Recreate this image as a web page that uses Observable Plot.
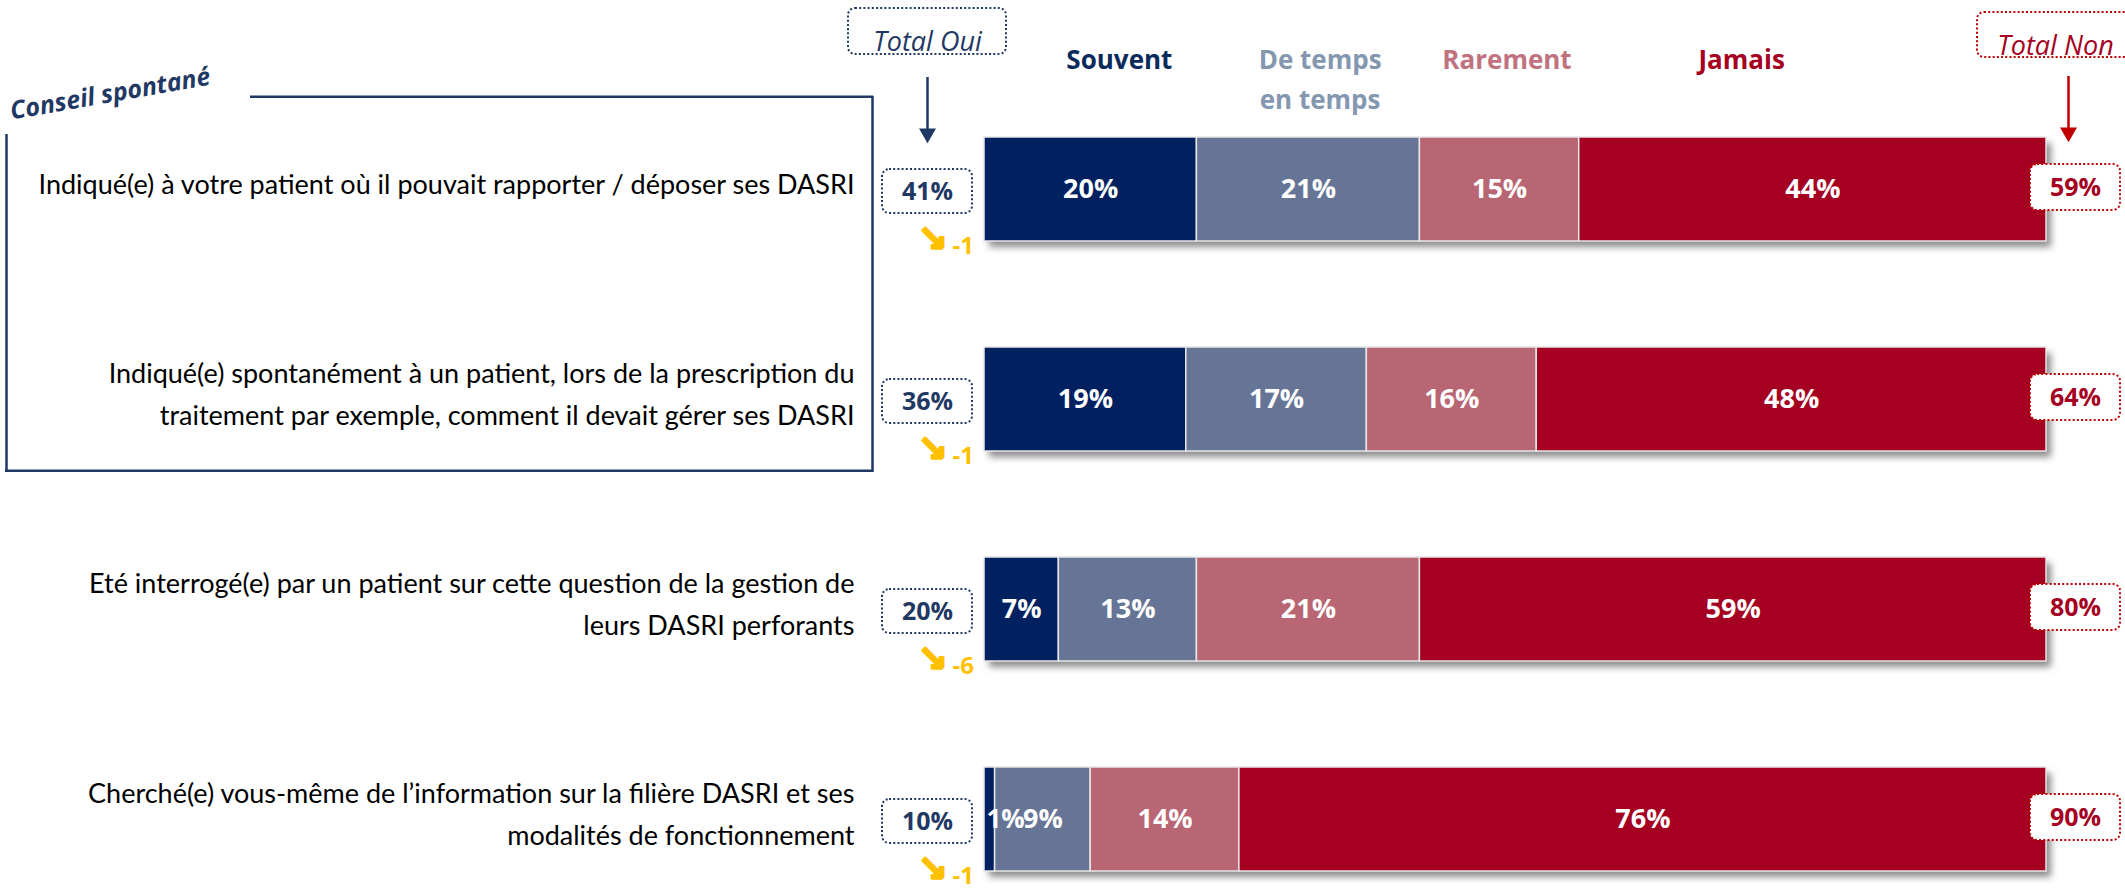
<!DOCTYPE html>
<html><head><meta charset="utf-8">
<script src="https://cdn.jsdelivr.net/npm/d3@7"></script>
<script src="https://cdn.jsdelivr.net/npm/@observablehq/plot@0.6"></script>
<style>html,body{margin:0;padding:0;background:#fff;} #chart svg{display:block;overflow:visible}</style>
</head><body><div id="chart"></div>
<script>
// ---- DATA ----
const questions = [
  "Indiqué(e) à votre patient où il pouvait rapporter / déposer ses DASRI",
  "Indiqué(e) spontanément à un patient, lors de la prescription du\ntraitement par exemple, comment il devait gérer ses DASRI",
  "Eté interrogé(e) par un patient sur cette question de la gestion de\nleurs DASRI perforants",
  "Cherché(e) vous-même de l’information sur la filière DASRI et ses\nmodalités de fonctionnement"
];
const categories = ["Souvent", "De temps en temps", "Rarement", "Jamais"];
const headerLabels = ["Souvent", "De temps\nen temps", "Rarement", "Jamais"];
const souvent  = [20, 19, 7, 1];
const deTemps  = [21, 17, 13, 9];
const rarement = [15, 16, 21, 14];
const jamais   = [44, 48, 59, 76];
const totalOui = [41, 36, 20, 10];
const totalNon = [59, 64, 80, 90];
const evolution = [-1, -1, -6, -1];
const groupLabel = "Conseil spontané";
const totalOuiLabel = "Total Oui";
const totalNonLabel = "Total Non";

// ---- STYLE / LAYOUT ----
const barColors = ["#002060", "#667595", "#b86673", "#a50021"];
const headerColors = ["#0b2a5c", "#8497b0", "#c0737f", "#a50021"];
const headerX = [12.7, 31.6, 49.2, 71.3]; // header positions along the percentage axis
const navy = "#1f3864", crimson = "#a50021", arrowRed = "#c00000", gold = "#ffc000";
const W = 2125, H = 893, mL = 984, mR = 79;
const k = (W - mL - mR) / 100;      // px per percent
const u = px => px / k;             // pixel offset -> percent units
const step = (871.6 - 136) / (4 - 0.505);
const bw = step * 0.495;
const FONT = "'Open Sans', sans-serif";

const valuesByCat = [souvent, deTemps, rarement, jamais];
const segments = [];
questions.forEach((q, i) => {
  let acc = 0;
  categories.forEach((c, j) => {
    const v = valuesByCat[j][i];
    segments.push({q, cat: c, value: v, x1: acc, x2: acc + v});
    acc += v;
  });
});
const rows = questions.map((q, i) => ({q, oui: totalOui[i], non: totalNon[i], evo: evolution[i]}));

const dotted = {strokeDasharray: "2 2.2", strokeWidth: 2, rx: 7, fill: "white"};

const marks = [
  // "Conseil spontané" bracket
  Plot.ruleX([u(6 - mL)], {insetTop: 134, insetBottom: H - 472, stroke: navy, strokeWidth: 2.5}),
  Plot.ruleX([u(872 - mL)], {insetTop: 96, insetBottom: H - 472, stroke: navy, strokeWidth: 2.5}),
  Plot.barX([0], {x1: u(5 - mL), x2: u(873.2 - mL), insetTop: 469.5, insetBottom: H - 472, fill: navy}),
  Plot.barX([0], {x1: u(250 - mL), x2: u(873.2 - mL), insetTop: 95.5, insetBottom: H - 98, fill: navy}),
  Plot.text([groupLabel], {x: u(108 - mL), frameAnchor: "top", dy: 84, text: d => d, rotate: -10,
    fill: navy, fontSize: 25, fontWeight: "bold", fontStyle: "italic", fontFamily: FONT}),

  // header boxes, labels and arrows
  Plot.barX([0], {x1: u(848 - mL), x2: u(1006 - mL), insetTop: 8, insetBottom: H - 54, stroke: navy, ...dotted}),
  Plot.barX([0], {x1: 100 + u(1977 - 2046), x2: 100 + u(2140 - 2046), insetTop: 12, insetBottom: H - 57, stroke: arrowRed, ...dotted}),
  Plot.text([totalOuiLabel], {x: u(927 - mL), frameAnchor: "top", dy: 31, text: d => d, fill: navy,
    fontSize: 27, fontStyle: "italic", fontFamily: FONT}),
  Plot.text([totalNonLabel], {x: 100 + u(2055 - 2046), frameAnchor: "top", dy: 35, text: d => d, fill: crimson,
    fontSize: 27, fontStyle: "italic", fontFamily: FONT}),
  ...headerLabels.map((lab, i) => Plot.text([lab], {x: headerX[i], frameAnchor: "top", dy: 40, text: d => d,
    fill: headerColors[i], fontSize: 26, fontWeight: "bold", lineHeight: 1.55, fontFamily: FONT})),
  Plot.ruleX([u(927 - mL)], {insetTop: 77, insetBottom: H - 130, stroke: navy, strokeWidth: 2.5}),
  Plot.dot([u(927 - mL)], {x: d => d, frameAnchor: "top", dy: 133, symbol: "triangle", r: 6.3, rotate: 180, fill: navy, stroke: null}),
  Plot.ruleX([100 + u(2068 - 2046)], {insetTop: 76, insetBottom: H - 129, stroke: arrowRed, strokeWidth: 2.5}),
  Plot.dot([100 + u(2068 - 2046)], {x: d => d, frameAnchor: "top", dy: 132, symbol: "triangle", r: 6.3, rotate: 180, fill: arrowRed, stroke: null}),

  // question labels
  Plot.text(rows, {y: "q", frameAnchor: "left", dx: -130, dy: -9, text: "q", textAnchor: "end",
    fill: "#000", fontSize: 27, lineHeight: 1.55, fontFamily: "Lato, sans-serif"}),

  // bar shadow
  Plot.barX(rows, {y: "q", x1: 0, x2: 100, fill: "#000", fillOpacity: 0.45, dx: 5, dy: 6}),
  // stacked bars
  Plot.barX(segments, {y: "q", x1: "x1", x2: "x2", fill: "cat", stroke: "#e6e6e6", strokeWidth: 1.5}),
  Plot.text(segments.filter(d => d.value >= 3), {y: "q", x: d => (d.x1 + d.x2) / 2, text: d => d.value + "%",
    fill: "white", fontSize: 27, fontWeight: "bold", fontFamily: FONT}),
  Plot.text(segments.filter(d => d.value < 3), {y: "q", x: "x1", dx: 2, textAnchor: "start", text: d => d.value + "%",
    fill: "white", fontSize: 26, fontWeight: "bold", fontFamily: FONT}),

  // Total Oui boxes
  Plot.barX(rows, {y: "q", x1: u(882 - mL), x2: u(972 - mL), insetTop: bw / 2 - 20, insetBottom: bw / 2 - 24, stroke: navy, ...dotted}),
  Plot.text(rows, {y: "q", x: u(927 - mL), dy: 2, text: d => d.oui + "%", fill: navy, fontSize: 25, fontWeight: "bold", fontFamily: FONT}),
  // evolution
  Plot.text(rows, {y: "q", x: u(932 - mL), dy: 50, text: () => "↘", fill: gold, stroke: gold, strokeWidth: 2.2,
    fontSize: 36, fontWeight: "bold", fontFamily: "'DejaVu Sans', sans-serif"}),
  Plot.text(rows, {y: "q", x: u(952 - mL), dy: 57, textAnchor: "start", text: d => String(d.evo), fill: gold,
    fontSize: 24, fontWeight: "bold", fontFamily: FONT}),

  // Total Non boxes
  Plot.barX(rows, {y: "q", x1: 100 + u(-16), x2: 100 + u(74), insetTop: bw / 2 - 25, insetBottom: bw / 2 - 21, stroke: arrowRed, ...dotted}),
  Plot.text(rows, {y: "q", x: 100 + u(29), dy: -2, text: d => d.non + "%", fill: crimson, fontSize: 25, fontWeight: "bold", fontFamily: FONT})
];

const chart = Plot.plot({
  width: W, height: H,
  marginLeft: mL, marginRight: mR, marginTop: 0, marginBottom: 0,
  x: {domain: [0, 100], axis: null},
  y: {domain: questions, range: [136, 871.6], paddingInner: 0.505, paddingOuter: 0, axis: null},
  color: {domain: categories, range: barColors},
  style: {fontFamily: FONT, background: "white", overflow: "visible"},
  marks
});

const svg = d3.select(chart);
svg.insert("defs", ":first-child").html('<filter id="shadowBlur" x="-5%" y="-30%" width="110%" height="160%"><feGaussianBlur stdDeviation="3.5"/></filter>');
svg.selectAll('g[aria-label="bar"]').filter(function() { return this.getAttribute("fill") === "#000"; })
  .attr("filter", "url(#shadowBlur)");
document.getElementById("chart").appendChild(chart);
</script>
</body></html>
